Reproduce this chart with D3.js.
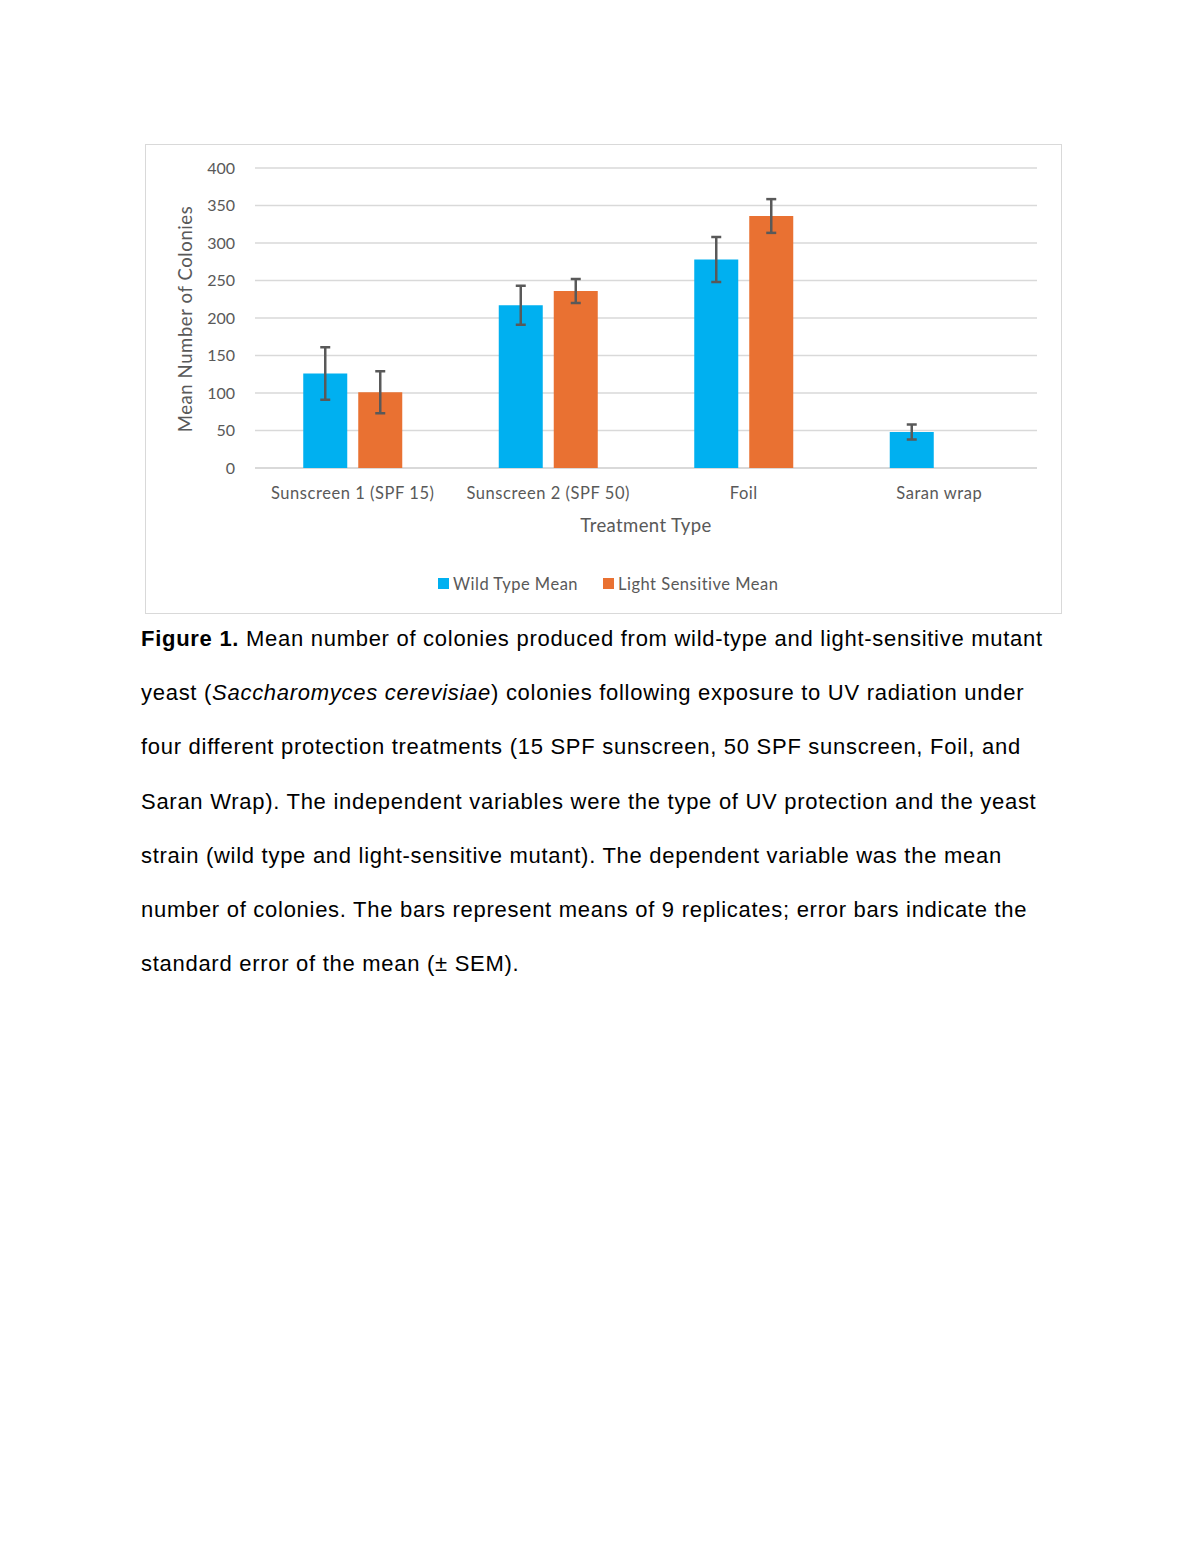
<!DOCTYPE html>
<html>
<head>
<meta charset="utf-8">
<style>
  body { margin: 0; background: #fff; }
  svg text.chart { font-family: Lato, "Open Sans", sans-serif; }
  svg text.caption { font-family: "Liberation Sans", Arial, sans-serif; }
</style>
</head>
<body>
<script src="https://cdn.jsdelivr.net/npm/d3@7/dist/d3.min.js"></script>
<script>
// chart data
var categories = ['Sunscreen 1 (SPF 15)', 'Sunscreen 2 (SPF 50)', 'Foil', 'Saran wrap'];
var seriesNames = ['Wild Type Mean', 'Light Sensitive Mean'];
var wildMeans = [126, 217, 278, 48];
var wildSem = [35, 26, 30, 10];
var lightMeans = [101, 236, 336, null];
var lightSem = [28, 16, 22.5, null];
var yTicks = [0, 50, 100, 150, 200, 250, 300, 350, 400];
var colors = ['#00b0f0', '#e97132'];

var captionLines = [
  [['b', 'Figure 1.'], ['n', ' Mean number of colonies produced from wild-type and light-sensitive mutant']],
  [['n', 'yeast ('], ['i', 'Saccharomyces cerevisiae'], ['n', ') colonies following exposure to UV radiation under']],
  [['n', 'four different protection treatments (15 SPF sunscreen, 50 SPF sunscreen, Foil, and']],
  [['n', 'Saran Wrap). The independent variables were the type of UV protection and the yeast']],
  [['n', 'strain (wild type and light-sensitive mutant). The dependent variable was the mean']],
  [['n', 'number of colonies. The bars represent means of 9 replicates; error bars indicate the']],
  [['n', 'standard error of the mean (\u00b1 SEM).']]
];

var width = 1200, height = 1553;
var svg = d3.select('body').append('svg')
  .attr('width', width).attr('height', height);

// chart frame
svg.append('rect')
  .attr('x', 145.5).attr('y', 144.5).attr('width', 916).attr('height', 469)
  .attr('fill', '#fff').attr('stroke', '#d9d9d9').attr('stroke-width', 1);

var plotLeft = 255, plotRight = 1037, plotTop = 168, plotBottom = 468;

var x = d3.scaleBand().domain(categories).range([plotLeft, plotRight]);
var y = d3.scaleLinear().domain([0, 400]).range([plotBottom, plotTop]);
var barW = 44, barGap = 11;

// gridlines
svg.append('g').selectAll('line').data(yTicks).enter().append('line')
  .attr('x1', plotLeft).attr('x2', plotRight)
  .attr('y1', function (d) { return y(d); }).attr('y2', function (d) { return y(d); })
  .attr('stroke', '#d9d9d9').attr('stroke-width', function (d) { return d === 0 ? 2 : 1.5; });

// y tick labels
svg.append('g').selectAll('text').data(yTicks).enter().append('text')
  .attr('class', 'chart')
  .attr('x', 235).attr('y', function (d) { return y(d) + 5.5; })
  .attr('text-anchor', 'end').attr('font-size', 16).attr('fill', '#595959')
  .text(function (d) { return d; });

// x labels
svg.append('g').selectAll('text').data(categories).enter().append('text')
  .attr('class', 'chart')
  .attr('x', function (d) { return x(d) + x.bandwidth() / 2; })
  .attr('y', 499)
  .attr('text-anchor', 'middle').attr('font-size', 16.5).attr('letter-spacing', 0.55)
  .attr('fill', '#595959')
  .text(function (d) { return d; });

// axis titles
svg.append('text').attr('class', 'chart').attr('x', 646).attr('y', 532)
  .attr('text-anchor', 'middle').attr('font-size', 18.5).attr('letter-spacing', 0.4)
  .attr('fill', '#595959')
  .text('Treatment Type');
svg.append('text').attr('class', 'chart')
  .attr('transform', 'translate(192,' + 319 + ') rotate(-90)')
  .attr('text-anchor', 'middle').attr('font-size', 18.5).attr('letter-spacing', 0.6)
  .attr('fill', '#595959')
  .text('Mean Number of Colonies');

// bars
var series = [
  { means: wildMeans, sem: wildSem, off: -(barW + barGap) / 2, color: colors[0] },
  { means: lightMeans, sem: lightSem, off: (barW + barGap) / 2, color: colors[1] }
];

series.forEach(function (s) {
  var rows = categories.map(function (c, i) {
    return { cat: c, v: s.means[i], e: s.sem[i] };
  }).filter(function (d) { return d.v !== null; });

  var cx = function (d) { return x(d.cat) + x.bandwidth() / 2 + s.off; };

  svg.append('g').selectAll('rect').data(rows).enter().append('rect')
    .attr('x', function (d) { return cx(d) - barW / 2; })
    .attr('y', function (d) { return y(d.v); })
    .attr('width', barW)
    .attr('height', function (d) { return y(0) - y(d.v); })
    .attr('fill', s.color);

  var eb = svg.append('g').attr('stroke', '#595959').attr('stroke-width', 2.5);
  eb.selectAll('line.v').data(rows).enter().append('line')
    .attr('x1', cx).attr('x2', cx)
    .attr('y1', function (d) { return y(d.v + d.e); })
    .attr('y2', function (d) { return y(d.v - d.e); });
  [1, -1].forEach(function (sign) {
    eb.selectAll('line.c' + sign).data(rows).enter().append('line')
      .attr('x1', function (d) { return cx(d) - 5; })
      .attr('x2', function (d) { return cx(d) + 5; })
      .attr('y1', function (d) { return y(d.v + sign * d.e); })
      .attr('y2', function (d) { return y(d.v + sign * d.e); });
  });
});

// legend
var legendX = [438, 603];
var lg = svg.append('g').selectAll('g').data(seriesNames).enter().append('g')
  .attr('transform', function (d, i) { return 'translate(' + legendX[i] + ',578)'; });
lg.append('rect').attr('width', 11).attr('height', 11)
  .attr('fill', function (d, i) { return colors[i]; });
lg.append('text').attr('class', 'chart').attr('x', 15).attr('y', 11.5)
  .attr('font-size', 16.5).attr('letter-spacing', 0.5).attr('fill', '#595959')
  .text(function (d) { return d; });

// caption
var cap = svg.append('g');
captionLines.forEach(function (line, i) {
  var t = cap.append('text').attr('class', 'caption')
    .attr('x', 141).attr('y', 646 + i * 54.2)
    .attr('font-size', 22).attr('letter-spacing', 0.72).attr('fill', '#000');
  line.forEach(function (part) {
    var sp = t.append('tspan').text(part[1]);
    if (part[0] === 'b') sp.attr('font-weight', 'bold');
    if (part[0] === 'i') sp.attr('font-style', 'italic');
  });
});
</script>
</body>
</html>
